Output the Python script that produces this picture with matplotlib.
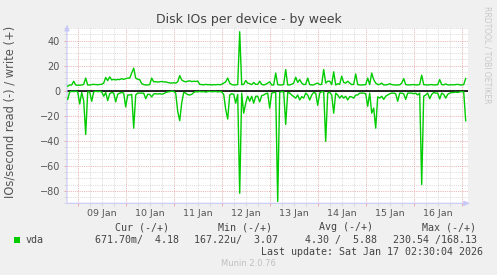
import matplotlib
matplotlib.use("Agg")
import matplotlib.pyplot as plt
from matplotlib.patches import Rectangle
from matplotlib.ticker import MultipleLocator
import numpy as np

# hourly samples, hour 0 = 09 Jan 00:00
start_hour = -5
write_ops = [
    3.5, 4.5, 4.5, 7.5, 4.5,
    # 09 Jan
    4.3, 4.3, 4.5, 5, 10, 4.5, 4.5, 4.8, 5, 4.8, 4.7, 4.9,
    5, 6, 10.5, 8, 11, 8.5, 9, 8.5, 9, 8.8, 9.5, 9,
    # 10 Jan
    9.5, 10, 10, 14, 18, 10, 9, 8.8, 5.5, 4.8, 4.5, 4.5,
    4.8, 10, 7, 7.2, 6.8, 7, 7.3, 6.9, 7, 6.5, 6.2, 6,
    # 11 Jan
    6.3, 6, 7, 12, 8.5, 7.5, 7, 7.5, 7.8, 7.2, 7.5, 7.3,
    7.6, 5, 4.8, 4.6, 5, 4.7, 4.8, 4.5, 4.8, 4.6, 4.9, 4.7,
    # 12 Jan
    5, 6, 7, 10, 6, 4.8, 4.5, 4.6, 4.8, 47, 4.8, 5,
    8, 6, 5.5, 4.8, 6.5, 5, 5, 7.5, 5, 4.5, 5, 6,
    # 13 Jan
    7, 4.5, 4.5, 14, 4.8, 4.5, 4.5, 5, 16.8, 4.5, 4.6, 5,
    6, 10.7, 6.5, 8.8, 6, 4.8, 5, 10, 4.8, 4.5, 4.6, 5.5,
    # 14 Jan
    6, 4.8, 5, 16.8, 6, 7.5, 7.5, 4.8, 15, 4.5, 5.5, 5,
    11.5, 6.5, 6, 7.5, 6, 4.8, 5, 13.3, 4.8, 4.5, 4.5, 4.6,
    # 15 Jan
    4.8, 10, 4.8, 14, 8.8, 6, 4.8, 5, 6, 4.5, 4.6, 4.8,
    5.5, 4.8, 4.6, 4.5, 4.5, 4.6, 6, 9.6, 4.8, 4.6, 4.5, 4.7,
    # 16 Jan
    4.8, 4.6, 4.5, 5, 12.3, 4.8, 4.6, 4.5, 4.7, 4.8, 4.5, 4.6,
    4.7, 8.8, 4.8, 4.6, 5.3, 4.6, 4.5, 4.7, 4.6, 4.8, 5, 4.6,
    # 17 Jan
    4.5, 4.8, 9.6,
]
read_ops = [
    -7, -1, -0.6, -0.8, -0.5,
    # 09 Jan
    -1, -10.7, -1.5, -8, -35, -1, -1, -8.5, -1, -0.5, -0.8, -0.6,
    -1, -4.5, -1.5, -8, -2.5, -1.5, -2, -9, -3, -2, -1.5, -2,
    # 10 Jan
    -13, -3.5, -3.5, -3, -30, -3.5, -2, -2, -2, -2, -6.4, -3,
    -3, -5, -2.7, -2.5, -2.7, -2.5, -2.8, -2.5, -1.5, -1, -0.8, -0.5,
    # 11 Jan
    -0.6, -2, -16.5, -24, -10, -1.5, -2, -3.2, -3.5, -3, -1.5, -0.8,
    -1, -0.7, -0.9, -0.8, -1.2, -0.8, -0.6, -0.9, -0.8, -0.7, -1, -0.8,
    # 12 Jan
    -1, -3, -15, -22.7, -3.5, -2.5, -3, -10, -3, -82, -2, -18,
    -10, -4.5, -8.5, -4.5, -10, -4.5, -4.5, -9, -4, -3.5, -2.5, -2,
    # 13 Jan
    -14, -2, -1.5, -1.5, -88.5, -1.3, -0.8, -1, -27, -1.5, -2, -3.5,
    -4.8, -6, -3.5, -7.5, -4.8, -6, -2, -3.5, -7.5, -3.5, -1.5, -2,
    # 14 Jan
    -11.7, -2, -0.8, -1, -40.5, -2, -1.3, -3.5, -18, -2, -3.5, -6,
    -4, -6, -4.5, -7.5, -4.8, -5, -6, -3.5, -3.5, -2, -2, -2,
    # 15 Jan
    -2.5, -12.5, -2, -18, -14, -30, -5, -6, -4.5, -7, -4.5, -3.5,
    -2.5, -2, -2, -2.5, -8.5, -2, -2, -2.5, -7, -2, -2, -2,
    # 16 Jan
    -2.5, -2, -3.5, -2, -75, -4.5, -3.5, -2, -6.5, -3, -1.5, -2,
    -2, -6.7, -2, -3, -6, -3, -2, -1.5, -1.5, -1.2, -1.5, -1,
    # 17 Jan
    -0.8, -1, -24,
]
day_labels = ["09 Jan", "10 Jan", "11 Jan", "12 Jan", "13 Jan", "14 Jan", "15 Jan", "16 Jan"]
y_ticks = [40, 20, 0, -20, -40, -60, -80]
legend_headers = ["Cur (-/+)", "Min (-/+)", "Avg (-/+)", "Max (-/+)"]
legend_values = ["671.70m/  4.18", "167.22u/  3.07", "4.30 /  5.88", "230.54 /168.13"]
last_update = "Last update: Sat Jan 17 02:30:04 2026"

W, H = 497, 275
GREEN = "#00CC00"
AXIS = "#C8C8F8"


def px(x, y):
    return x / W, 1 - y / H


def draw():
    fig = plt.figure(figsize=(W / 100, H / 100), dpi=100, facecolor="#F0F0F0")
    ax = fig.add_axes([67 / W, 1 - 203.3 / H, 401 / W, 175.3 / H])
    ax.set_facecolor("white")

    hours = np.arange(start_hour, start_hour + len(write_ops))
    ax.axhline(0, color="black", lw=1.2, zorder=3)
    ax.plot(hours, write_ops, color=GREEN, lw=1, zorder=4)
    ax.plot(hours, read_ops, color=GREEN, lw=1, zorder=4)

    ax.set_xlim(-5.35, 195.15)
    ax.set_ylim(-90, 50)

    ax.xaxis.set_major_locator(MultipleLocator(24))
    ax.xaxis.set_minor_locator(MultipleLocator(6))
    ax.set_yticks(y_ticks)
    ax.yaxis.set_minor_locator(MultipleLocator(5))
    ax.set_xticklabels([])
    ax.grid(which="minor", color="#D4D4D4", lw=0.6, ls=(0, (1, 1.2)))
    ax.grid(which="major", color="#E6A0A0", lw=0.6, ls=(0, (1, 1.2)))
    ax.set_axisbelow(True)
    ax.tick_params(which="major", length=2, width=0.6, color="#E6A0A0",
                   labelsize=7, labelcolor="#555555", pad=3)
    ax.tick_params(which="minor", length=2, width=0.6, color="#D4D4D4")
    for s in ax.spines.values():
        s.set_visible(False)

    for i, lab in enumerate(day_labels):
        ax.text(12 + 24 * i, -0.035, lab, transform=ax.get_xaxis_transform(),
                ha="center", va="top", fontsize=6.8, color="#555555")

    # rrd style axis arrows
    ax.annotate("", xy=(0, 1.035), xytext=(0, -0.01), xycoords="axes fraction",
                arrowprops=dict(arrowstyle="-|>,head_width=0.15,head_length=0.35",
                                color=AXIS, lw=0.8), annotation_clip=False)
    ax.annotate("", xy=(1.012, 0), xytext=(-0.008, 0), xycoords="axes fraction",
                arrowprops=dict(arrowstyle="-|>,head_width=0.15,head_length=0.35",
                                color=AXIS, lw=0.8), annotation_clip=False)

    fig.text(*px(248.5, 19), "Disk IOs per device - by week", ha="center", va="center",
             fontsize=9, color="#444444")
    fig.text(*px(10, 112), "IOs/second read (-) / write (+)", rotation=90,
             ha="center", va="center", fontsize=8.3, color="#555555")
    fig.text(*px(487, 6), "RRDTOOL / TOBI OETIKER", rotation=270, ha="center", va="top",
             fontsize=5.5, color="#C8C8C8")

    mono = dict(family="DejaVu Sans Mono", fontsize=7.2, color="#444444", va="center")
    fig.patches.append(Rectangle(px(14, 243), 6 / W, 6 / H, transform=fig.transFigure,
                                 facecolor=GREEN, edgecolor="none"))
    fig.text(*px(26, 240), "vda", ha="left", **mono)
    for h, x in zip(legend_headers, [169.3, 272, 373, 476]):
        fig.text(*px(x, 227.3), h, ha="right", **mono)
    for v, x in zip(legend_values, [179, 278.3, 377.3, 476.7]):
        fig.text(*px(x, 240), v, ha="right", **mono)
    fig.text(*px(482.7, 251.7), last_update, ha="right", **mono)
    fig.text(*px(248.3, 264), "Munin 2.0.76", ha="center", va="center",
             fontsize=6, color="#C0C0C0")

    fig.savefig("out.png", dpi=100, facecolor=fig.get_facecolor())


if __name__ == "__main__":
    draw()
